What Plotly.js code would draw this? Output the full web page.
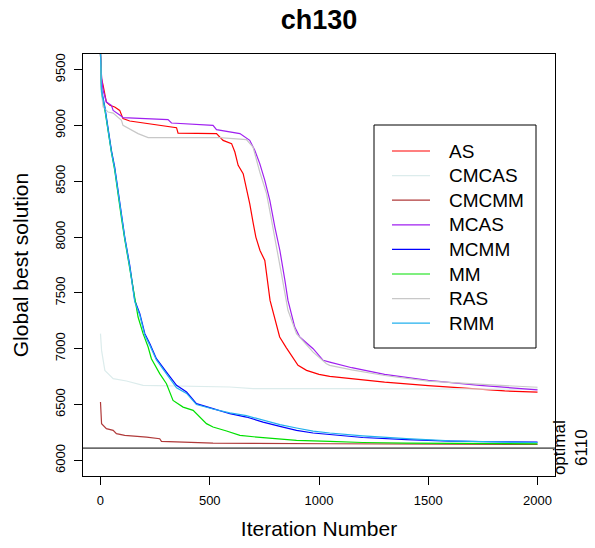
<!DOCTYPE html>
<html><head><meta charset="utf-8">
<script src="https://cdn.plot.ly/plotly-3.0.1.min.js"></script>
<style>html,body{margin:0;padding:0;background:#fff}#chart{width:595px;height:548px}</style>
</head><body><div id="chart"></div>
<script>
// ---- data ----
const seriesNames = ['AS', 'CMCAS', 'CMCMM', 'MCAS', 'MCMM', 'MM', 'RAS', 'RMM'];
const optimalValue = 6110;
const xTicks = [0, 500, 1000, 1500, 2000];
const yTicks = [6000, 6500, 7000, 7500, 8000, 8500, 9000, 9500];

const AS_x = [0, 5, 12, 27, 43, 65, 88, 103, 134, 211, 303, 348, 355, 531, 561, 600, 615, 630, 653, 668, 683, 698, 711, 730, 752, 776, 800, 820, 850, 881, 904, 943, 1000, 1049, 1150, 1300, 1500, 1700, 1850, 2000];
const AS_y = [9645, 9420, 9360, 9210, 9180, 9165, 9135, 9061, 9040, 9016, 8992, 8980, 8932, 8927, 8866, 8837, 8762, 8643, 8568, 8448, 8300, 8135, 8000, 7880, 7790, 7433, 7250, 7105, 7010, 6925, 6851, 6806, 6770, 6752, 6730, 6700, 6670, 6640, 6622, 6612];

const CMCAS_x = [0, 5, 20, 58, 119, 195, 592, 698, 1049, 1500, 2000];
const CMCAS_y = [7135, 6985, 6806, 6732, 6711, 6672, 6657, 6642, 6642, 6640, 6638];

const CMCMM_x = [0, 5, 27, 58, 73, 111, 211, 271, 279, 515, 1049, 1500, 2000];
const CMCMM_y = [6522, 6329, 6284, 6269, 6239, 6224, 6209, 6194, 6170, 6155, 6149, 6145, 6143];

const MCAS_x = [0, 5, 12, 27, 50, 58, 96, 103, 309, 325, 515, 531, 638, 683, 706, 729, 752, 775, 798, 821, 844, 858, 889, 912, 973, 1019, 1049, 1150, 1300, 1500, 1735, 2000];
const MCAS_y = [9645, 9434, 9315, 9210, 9180, 9135, 9082, 9070, 9052, 9022, 9000, 8962, 8927, 8867, 8777, 8658, 8508, 8329, 8090, 7880, 7612, 7433, 7194, 7105, 7000, 6896, 6880, 6830, 6770, 6717, 6672, 6632];

const MCMM_x = [0, 5, 20, 35, 50, 65, 81, 96, 111, 134, 157, 180, 203, 226, 256, 302, 348, 394, 439, 515, 592, 668, 744, 821, 897, 973, 1049, 1200, 1400, 1600, 1800, 2000];
const MCMM_y = [9645, 9315, 9165, 8956, 8777, 8627, 8419, 8180, 8000, 7747, 7433, 7314, 7135, 7045, 6911, 6791, 6672, 6612, 6508, 6463, 6418, 6388, 6343, 6305, 6269, 6245, 6230, 6205, 6185, 6172, 6167, 6163];

const MM_x = [0, 5, 20, 35, 50, 65, 81, 96, 111, 134, 157, 172, 195, 218, 233, 271, 302, 332, 378, 424, 485, 515, 577, 638, 744, 897, 1049, 1200, 1400, 1600, 1800, 2000];
const MM_y = [9645, 9290, 9140, 8930, 8760, 8600, 8400, 8170, 7980, 7720, 7433, 7284, 7135, 7015, 6911, 6777, 6687, 6537, 6477, 6448, 6329, 6299, 6263, 6224, 6203, 6179, 6170, 6160, 6155, 6152, 6150, 6148];

const RAS_x = [0, 5, 12, 35, 58, 96, 103, 134, 172, 218, 546, 668, 698, 729, 760, 783, 798, 830, 858, 897, 973, 1034, 1049, 1150, 1300, 1500, 1750, 2000];
const RAS_y = [9645, 9300, 9165, 9120, 9111, 9046, 9001, 8971, 8927, 8891, 8891, 8873, 8807, 8583, 8389, 8150, 8000, 7650, 7344, 7135, 6970, 6866, 6851, 6810, 6760, 6710, 6680, 6655];

const RMM_x = [0, 5, 20, 35, 50, 65, 81, 96, 111, 134, 157, 180, 203, 226, 256, 302, 348, 394, 439, 515, 592, 668, 744, 821, 897, 973, 1049, 1200, 1400, 1600, 1800, 2000];
const RMM_y = [9645, 9300, 9150, 8940, 8760, 8610, 8400, 8160, 7990, 7730, 7420, 7300, 7120, 7030, 6900, 6775, 6650, 6600, 6500, 6460, 6425, 6400, 6360, 6320, 6290, 6262, 6245, 6220, 6195, 6175, 6165, 6160];

// ---- styles ----
const seriesColors = ['#ff0000', '#dcecec', '#b03a3a', '#a020f0', '#0000ff', '#00e000', '#c8c8c8', '#22b0ee'];
const FONT = 'Liberation Sans, Arial, Helvetica, sans-serif';

const xs = [AS_x, CMCAS_x, CMCMM_x, MCAS_x, MCMM_x, MM_x, RAS_x, RMM_x];
const ys = [AS_y, CMCAS_y, CMCMM_y, MCAS_y, MCMM_y, MM_y, RAS_y, RMM_y];

const traces = seriesNames.map((n, i) => ({
  type: 'scatter', mode: 'lines', name: n,
  x: xs[i], y: ys[i],
  line: {color: seriesColors[i], width: 1.2},
  showlegend: false, hoverinfo: 'skip'
}));

// plot area in pixels (for the hand-built legend box)
const L = 83, R = 555, T = 54, B = 476;
const px = v => (v - L) / (R - L);
const py = v => (B - v) / (B - T);

const shapes = [
  {type: 'line', xref: 'paper', yref: 'y', x0: 0, x1: 1, y0: optimalValue, y1: optimalValue,
   line: {color: '#000', width: 1}},
  {type: 'rect', xref: 'paper', yref: 'paper', x0: px(374), x1: px(536), y0: py(348), y1: py(125),
   line: {color: '#000', width: 1}, fillcolor: '#fff', layer: 'above'}
];
const annotations = [
  {xref: 'paper', yref: 'y', x: 1, xshift: 15, y: optimalValue, xanchor: 'center', yanchor: 'middle',
   text: 'optimal<br>' + optimalValue, textangle: -90, showarrow: false,
   font: {family: FONT, size: 17, color: '#000'}}
];
seriesNames.forEach((n, i) => {
  const yy = py(151 + 24.6 * i);
  shapes.push({type: 'line', xref: 'paper', yref: 'paper', x0: px(392), x1: px(430), y0: yy, y1: yy,
    line: {color: seriesColors[i], width: 1.2}, layer: 'above'});
  annotations.push({xref: 'paper', yref: 'paper', x: px(447), y: yy, xanchor: 'left', yanchor: 'middle',
    text: n, showarrow: false, font: {family: FONT, size: 19, color: '#000'}});
});

const layout = {
  width: 595, height: 548,
  margin: {l: 83, r: 40, t: 54, b: 72, pad: 0},
  paper_bgcolor: '#fff', plot_bgcolor: '#fff',
  font: {family: FONT, color: '#000'},
  title: {text: '<b>ch130</b>', font: {family: FONT, size: 27, color: '#000'},
          xref: 'paper', x: 0.5, xanchor: 'center', yref: 'container', y: 1 - 20 / 548, yanchor: 'middle'},
  xaxis: {
    range: [-80, 2080], tickvals: xTicks, ticktext: xTicks.map(String),
    ticks: 'outside', ticklen: 8, tickwidth: 1, tickcolor: '#000',
    showline: true, mirror: true, linecolor: '#000', linewidth: 1,
    showgrid: false, zeroline: false, ticklabelstandoff: 4,
    tickfont: {family: FONT, size: 13, color: '#000'},
    title: {text: 'Iteration Number', font: {family: FONT, size: 21, color: '#000'}, standoff: 14}
  },
  yaxis: {
    range: [5860, 9640], tickvals: yTicks, ticktext: yTicks.map(String), tickangle: -90,
    ticks: 'outside', ticklen: 8, tickwidth: 1, tickcolor: '#000',
    showline: true, mirror: true, linecolor: '#000', linewidth: 1,
    showgrid: false, zeroline: false, ticklabelstandoff: 4,
    tickfont: {family: FONT, size: 13, color: '#000'},
    title: {text: 'Global best solution', font: {family: FONT, size: 21, color: '#000'}, standoff: 18}
  },
  shapes: shapes, annotations: annotations, showlegend: false
};

Plotly.newPlot('chart', traces, layout, {displayModeBar: false, staticPlot: true});
</script>
</body></html>
